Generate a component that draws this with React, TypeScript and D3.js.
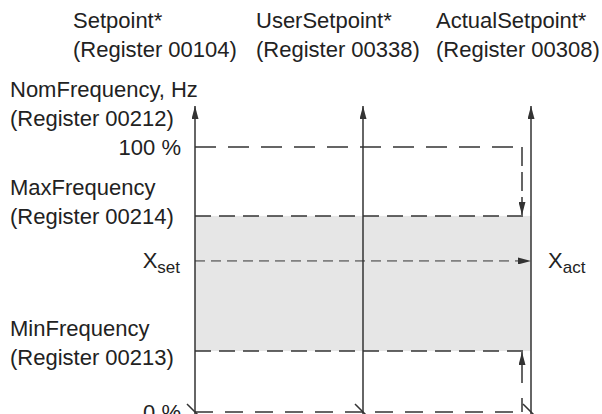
import React from "react";
import * as d3 from "d3";

// levels in percent of NomFrequency
const levelNames = ["nom", "max", "set", "min", "zero"];
const levelValues = [100, 74, 57, 23, 0];
const axisNames = ["Setpoint*", "UserSetpoint*", "ActualSetpoint*"];
const axisRegisters = ["(Register 00104)", "(Register 00338)", "(Register 00308)"];
const leftLevels = ["nom", "max", "min"];
const leftTitles = ["NomFrequency, Hz", "MaxFrequency", "MinFrequency"];
const leftRegisters = ["(Register 00212)", "(Register 00214)", "(Register 00213)"];
const tickLevels = ["nom", "zero"];
const tickLabels = ["100 %", "0 %"];

const W = 602;
const H = 414;
const ink = "#333";
const textInk = "#222";
const font = "Liberation Sans, Arial, sans-serif";
const fs = 22;

const App = () => {
  const lv = (name: string) => levelValues[levelNames.indexOf(name)];
  const y = d3.scaleLinear().domain([0, 100]).range([412, 147]);
  const x = d3.scalePoint().domain(axisNames).range([195, 531]);
  const x0 = x(axisNames[0])!;
  const x2 = x(axisNames[2])!;
  const xr = x2 - 9; // inner dashed guide near the actual axis
  const headerX = [73, 256, 436];
  // baseline offsets of the two label rows, relative to their level line
  const leftDy = [[-50, -21], [-21, 8], [-15, 14]];

  const line = d3.line<[number, number]>();
  const hline = (name: string, to: number) => line([[x0, y(lv(name))], [to, y(lv(name))]])!;

  return (
    <svg width={W} height={H} style={{ position: "absolute", left: 0, top: 0 }} fontFamily={font}>
      <defs>
        <marker id="ah" viewBox="0 0 10 10" refX="10" refY="5" markerWidth="13" markerHeight="7" markerUnits="userSpaceOnUse" orient="auto" preserveAspectRatio="none">
          <path d="M0,0 L10,5 L0,10 z" fill={ink} />
        </marker>
      </defs>

      {/* allowed band */}
      <rect x={x0} y={y(lv("max"))} width={x2 - x0} height={y(lv("min")) - y(lv("max"))} fill="#e6e6e6" />

      {/* level lines */}
      <path d={hline("nom", xr)} stroke={ink} strokeWidth={1.5} strokeDasharray="21 12" fill="none" />
      <path d={hline("max", x2)} stroke={ink} strokeWidth={1.5} strokeDasharray="16 8" fill="none" />
      <path d={hline("min", x2)} stroke={ink} strokeWidth={1.5} strokeDasharray="16 8" fill="none" />
      <path d={hline("zero", xr)} stroke={ink} strokeWidth={1.5} strokeDasharray="18 12" fill="none" />
      <path d={hline("set", x2)} stroke={ink} strokeWidth={1} strokeDasharray="10 6" fill="none" markerEnd="url(#ah)" />

      {/* limiting guides */}
      <path d={line([[xr, y(lv("nom"))], [xr, y(lv("max")) - 1]])!} stroke={ink} strokeWidth={1.5} strokeDasharray="19 6" fill="none" markerEnd="url(#ah)" />
      <path d={line([[xr, y(lv("zero"))], [xr, y(lv("min")) + 1]])!} stroke={ink} strokeWidth={1.5} strokeDasharray="14 15 40" fill="none" markerEnd="url(#ah)" />

      {/* axes */}
      {axisNames.map((n) => (
        <g key={n}>
          <path d={line([[x(n)!, 416], [x(n)!, 106]])!} stroke={ink} strokeWidth={1.5} fill="none" markerEnd="url(#ah)" />
          <path d={line([[x(n)! - 8, 404], [x(n)! + 3, 415]])!} stroke={ink} strokeWidth={1.5} fill="none" />
        </g>
      ))}

      {/* header labels */}
      {axisNames.map((n, i) => (
        <g key={n} fontSize={fs} fill={textInk}>
          <text x={headerX[i]} y={28}>{n}</text>
          <text x={headerX[i]} y={57}>{axisRegisters[i]}</text>
        </g>
      ))}

      {/* left labels */}
      {leftLevels.map((l, i) => (
        <g key={l} fontSize={fs} fill={textInk}>
          <text x={10} y={y(lv(l)) + leftDy[i][0]}>{leftTitles[i]}</text>
          <text x={10} y={y(lv(l)) + leftDy[i][1]}>{leftRegisters[i]}</text>
        </g>
      ))}
      {tickLevels.map((l, i) => (
        <text key={l} x={181} y={y(lv(l)) + 8} fontSize={fs} fill={textInk} textAnchor="end">{tickLabels[i]}</text>
      ))}

      {/* setpoint markers */}
      <text x={180} y={y(lv("set")) + 7} fontSize={fs} fill={textInk} textAnchor="end">
        X<tspan fontSize={17} dy={5}>set</tspan>
      </text>
      <text x={548} y={y(lv("set")) + 7} fontSize={fs} fill={textInk}>
        X<tspan fontSize={17} dy={5}>act</tspan>
      </text>
    </svg>
  );
};

export default App;
